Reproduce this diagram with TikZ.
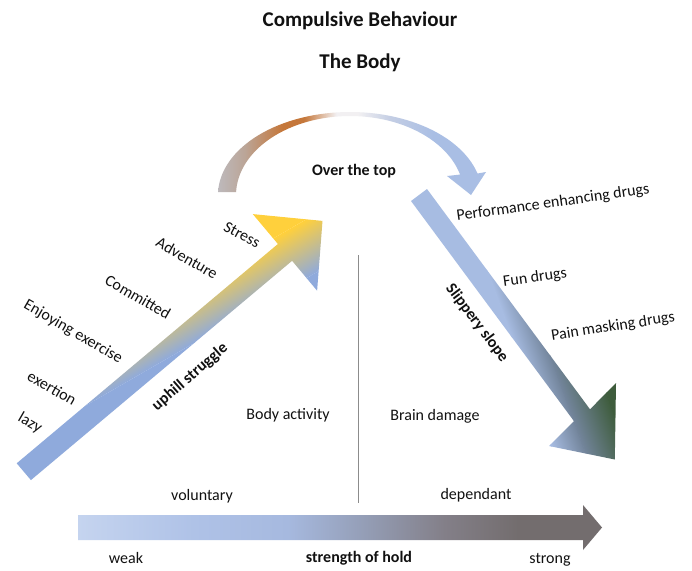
\documentclass[tikz,border=0pt]{standalone}
\usepackage{fontspec}
\setmainfont{Carlito}
\definecolor{txt}{HTML}{111111}
\definecolor{upblue}{HTML}{8FAADC}
\definecolor{upyellow}{HTML}{FFD03C}
\definecolor{slblue}{HTML}{A7BCE2}
\definecolor{slslate}{HTML}{72849A}
\definecolor{slgreen}{HTML}{3E5C3C}
\definecolor{otgray}{HTML}{BDB9BC}
\definecolor{otbeige}{HTML}{BBA597}
\definecolor{otorange}{HTML}{C5773A}
\definecolor{otwhite}{HTML}{F2F0F2}
\definecolor{otlblue}{HTML}{C4CEE4}
\definecolor{otblue}{HTML}{A9BEE4}
\definecolor{hbA}{HTML}{C5D4EF}
\definecolor{hbB}{HTML}{AFC2E7}
\definecolor{hbC}{HTML}{A6B9DF}
\definecolor{hbD}{HTML}{959FB8}
\definecolor{hbE}{HTML}{837F88}
\definecolor{hbF}{HTML}{736D6E}
\definecolor{divline}{HTML}{8C8C8C}
\pgfdeclarehorizontalshading{overtop}{100bp}{color(0bp)=(otgray); color(25bp)=(otgray); color(30bp)=(otbeige); color(37bp)=(otorange); color(41bp)=(otorange); color(47bp)=(otwhite); color(51bp)=(otwhite); color(57bp)=(otlblue); color(65bp)=(otblue); color(100bp)=(otblue)}
\pgfdeclarehorizontalshading{holdshade}{100bp}{color(0bp)=(hbA); color(25bp)=(hbA); color(36bp)=(hbB); color(45bp)=(hbC); color(52bp)=(hbD); color(60bp)=(hbE); color(67bp)=(hbF); color(100bp)=(hbF)}
\tikzset{
  lbl/.style={font=\fontsize{16}{19}\selectfont, inner sep=0pt, text=txt},
  bl/.style={font=\bfseries\fontsize{16}{19}\selectfont, inner sep=0pt, text=txt},
  ttl/.style={font=\bfseries\fontsize{21}{25}\selectfont, inner sep=0pt, text=txt}
}
\begin{document}
\begin{tikzpicture}[x=1pt,y=-1pt]
\useasboundingbox[fill=white] (0,0) rectangle (692,570);

% Over the top curved arrow
\begin{scope}
  \clip plot[domain=178:15, samples=60] ({350+132*cos(\x)}, {195-83*sin(\x)})
    -- (486,172) -- (471,195) -- (447,176)
    -- plot[domain=15:178, samples=60] ({350+114*cos(\x)}, {195-79*sin(\x)}) -- cycle;
  \shade[shading=overtop] (218,100) rectangle (487,200);
\end{scope}

% uphill struggle arrow
\begin{scope}
  \clip (16.7,463.3) -- (277.9,244.0) -- (252.8,214.1) -- (322.5,220.9)
        -- (317.1,290.7) -- (292.1,260.8) -- (30.9,480.1) -- cycle;
  \begin{scope}[transform canvas={rotate around={30:(170,350)}}]
    \fill[upblue] (-400,356) rectangle (700,900);
    \shade[top color=upyellow, bottom color=upblue] (-400,305) rectangle (700,356);
    \fill[upyellow] (-400,-300) rectangle (700,305);
  \end{scope}
\end{scope}

% slippery slope arrow
\begin{scope}
  \clip (411,201) -- (427,189) -- (590,409.3) -- (616,383) -- (614.8,459.5)
        -- (549,446) -- (574,421.2) -- cycle;
  \begin{scope}[transform canvas={rotate around={20:(520,330)}}]
    \fill[slblue] (100,-100) rectangle (510,800);
    \shade[left color=slblue, right color=slslate] (509.5,-100) rectangle (540,800);
    \shade[left color=slslate, right color=slgreen] (539.5,-100) rectangle (580,800);
    \fill[slgreen] (579.5,-100) rectangle (950,800);
  \end{scope}
\end{scope}

% strength of hold arrow
\shade[shading=holdshade] (78,515) -- (583,515) -- (583,505) -- (602,527.5)
  -- (583,550) -- (583,540) -- (78,540) -- cycle;

% divider
\coordinate (divtop) at (358,255);
\coordinate (divbot) at (358,503);
\draw[divline, line width=1pt] (divtop) -- (divbot);

% titles
\node[ttl] (t1) at (360,21) {Compulsive Behaviour};
\node[ttl] (t2) at (360,63) {The Body};

\node[bl] (over) at (354,171) {Over the top};

\node[lbl, rotate=-28] (stress) at (242,235) {Stress};
\node[lbl, rotate=-30] (adv) at (187,258) {Adventure};
\node[lbl, rotate=-30] (comm) at (138,297) {Committed};
\node[lbl, rotate=-30] (enj) at (73,332) {Enjoying exercise};
\node[lbl, rotate=-30] (exer) at (52,388) {exertion};
\node[lbl, rotate=-30] (lazy) at (30,423) {lazy};
\node[bl, rotate=41] (uphill) at (190,377) {uphill struggle};

\node[lbl] (body) at (288,415) {Body activity};
\node[lbl] (brain) at (435,416) {Brain damage};

\node[lbl, rotate=8] (perf) at (553,203) {Performance enhancing drugs};
\node[lbl, rotate=8] (fun) at (535,278) {Fun drugs};
\node[lbl, rotate=9] (pain) at (613,327) {Pain masking drugs};
\node[bl, rotate=-53] (slip) at (477,323) {Slippery slope};

\node[lbl] (vol) at (202,496) {voluntary};
\node[lbl] (dep) at (476,495) {dependant};
\node[lbl] (weak) at (126,558) {weak};
\node[bl] (hold) at (359,558) {strength of hold};
\node[lbl] (strong) at (550,560) {strong};
\end{tikzpicture}
\end{document}
